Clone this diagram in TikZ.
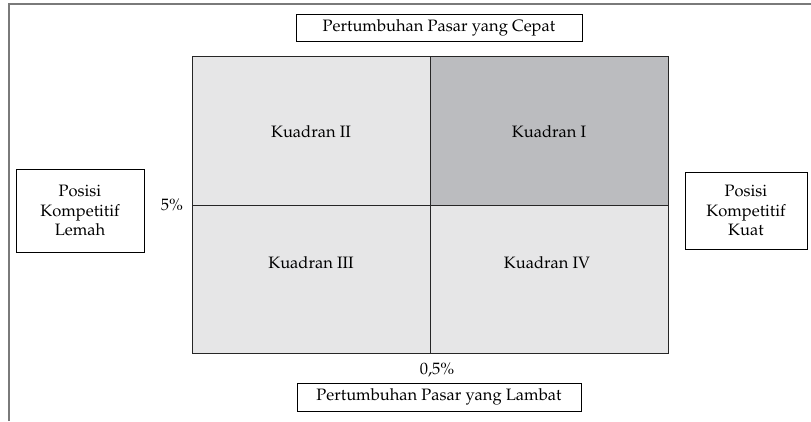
\documentclass[tikz,border=0pt]{standalone}
\usepackage[T1]{fontenc}
\usepackage{mathpazo}
\usepackage{tikz}
\usetikzlibrary{positioning}

\definecolor{lightq}{HTML}{E6E6E7}
\definecolor{darkq}{HTML}{BBBCBF}
\definecolor{framegray}{HTML}{7A7A7A}

\begin{document}
\begin{tikzpicture}[x=1pt,y=1pt,font=\fontsize{16.5}{19.5}\selectfont,
                    semithick]
  \tikzstyle{quad}=[rectangle,draw=black!85,line width=1pt,minimum width=238pt,
                    inner sep=0pt]
  \tikzstyle{label box}=[rectangle,draw,line width=0.7pt,align=center]

  \useasboundingbox (0,0) rectangle (811,-421);
  \draw[framegray,line width=1.1pt] (9,-421) -- (9,-4) -- (811,-4);

  % quadrants
  \node[quad,fill=lightq,minimum height=149pt] (Q2) at (311,-130.5) {};
  \node[quad,fill=darkq,minimum height=149pt]  (Q1) at (549,-130.5) {};
  \node[quad,fill=lightq,minimum height=148pt] (Q3) at (311,-279) {};
  \node[quad,fill=lightq,minimum height=148pt] (Q4) at (549,-279) {};

  \node at ([yshift=-1pt]Q2.center) {Kuadran II};
  \node at ([yshift=-1pt]Q1.center) {Kuadran I};
  \node at ([yshift=16pt]Q3.center) {Kuadran III};
  \node at ([xshift=-2pt,yshift=16pt]Q4.center) {Kuadran IV};

  % axes labels
  \node[label box,minimum width=286pt,minimum height=27pt] (cepat) at (439,-27.5)
       {Pertumbuhan Pasar yang Cepat};
  \node[label box,minimum width=284pt,minimum height=28pt] (lambat) at (439,-397)
       {Pertumbuhan Pasar yang Lambat};
  \node[label box,minimum width=128pt,minimum height=83pt] (lemah) at (80,-210.5)
       {Posisi\\Kompetitif\\Lemah};
  \node[label box,minimum width=122pt,minimum height=77pt] (kuat) at (746,-210.5)
       {Posisi\\Kompetitif\\Kuat};

  \node (lima) at (172,-205) {5\%};
  \node (nol) at (437,-370) {0,5\%};
\end{tikzpicture}
\end{document}
